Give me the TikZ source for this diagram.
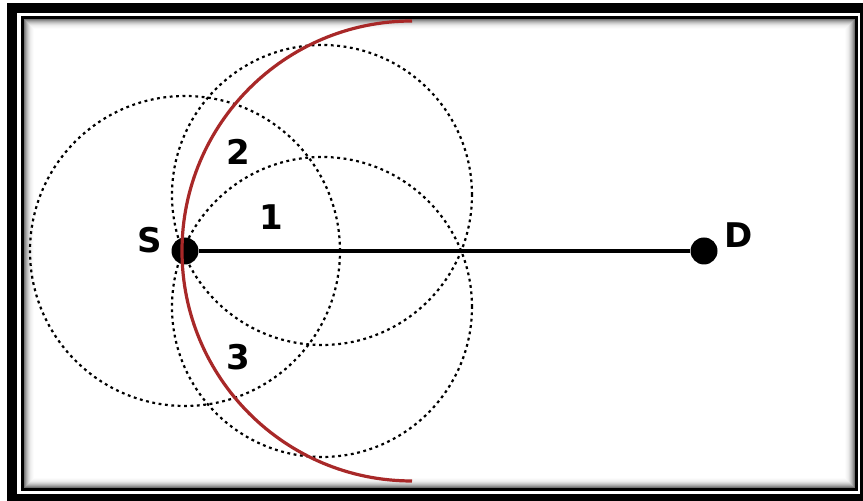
\documentclass[tikz,border=0pt]{standalone}
\usepackage{fontspec}
\setmainfont{DejaVu Sans}
\usetikzlibrary{positioning}
\definecolor{ArcRed}{HTML}{A82828}
\tikzset{every node/.style={font=\fontsize{17}{20}\selectfont\bfseries},
 radiorange/.style={draw=black,line width=1.1pt,dash pattern=on 1.4pt off 1.8pt},
 hop/.style={circle,fill=black,minimum size=13.5pt,inner sep=0pt},
 tag/.style={inner sep=0pt}}
\begin{document}
\begin{tikzpicture}[x=0.5pt,y=0.5pt]
\clip (0,0) rectangle (863,501);
\fill[white] (0,0) rectangle (863,501);
% frame with inner shadow
\draw[line width=5pt] (12,2) rectangle (865,493);
\draw[line width=1.5pt] (22.5,11) rectangle (856.5,483.5);
\foreach \i/\g in {1/55,2/44,3/34,4/26,5/19,6/13,7/8,8/5,9/3,10/1}
 \draw[black!\g,line width=0.5pt] (23.5+\i,12+\i) rectangle (855.5-\i,482.5-\i);
% nodes
\node[hop] (src) at (185,250) {};\node[hop] (dst) at (704,250) {};
\coordinate (upc) at (322,306);\coordinate (loc) at (322,194);\coordinate (arcc) at (412,250);
\draw[line width=2.3pt] (src) -- (dst);
\draw[radiorange] (src) circle[radius=155];
\draw[radiorange] (upc) circle[radius=150];
\draw[radiorange] (loc) circle[radius=150];
\draw[ArcRed,line width=1.6pt] ([shift={(90:230)}]arcc) arc[start angle=90,end angle=270,radius=230];
\node[tag] (lblS) at (150,261) {S};\node[tag] (lblD) at (739,266) {D};
\node[tag] (one) at (271,284) {1};\node[tag] (two) at (238,349) {2};
\node[tag] (three) at (238,144) {3};
\end{tikzpicture}
\end{document}
